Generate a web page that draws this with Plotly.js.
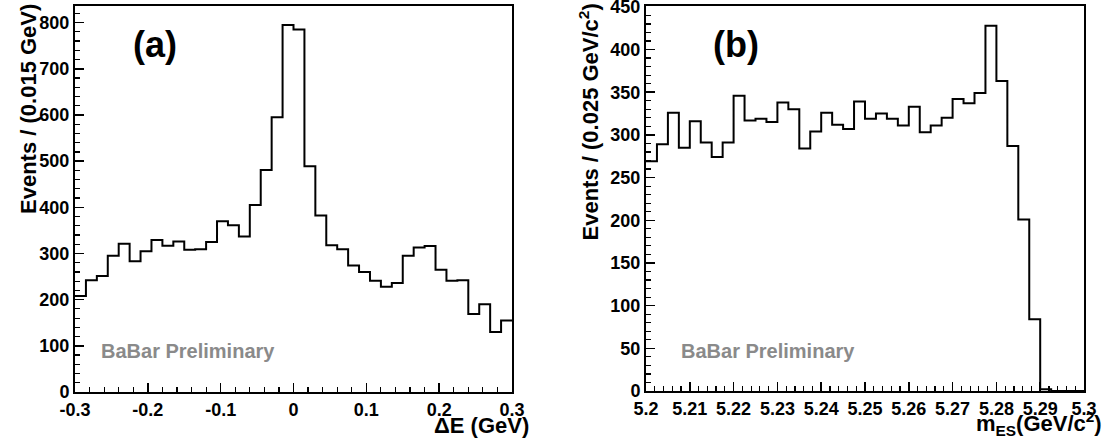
<!DOCTYPE html>
<html>
<head>
<meta charset="utf-8">
<script src="https://cdn.plot.ly/plotly-3.0.1.min.js"></script>
<style>html,body{margin:0;padding:0;background:#fff;}#chart{width:1112px;height:438px;}</style>
</head>
<body>
<div id="chart"></div>
<script>
// ---- data (a): Delta E histogram, 40 bins of 0.015 GeV from -0.3 to 0.3
const deLow = -0.3, deHigh = 0.3, deBins = 40;
const deCounts = [208, 242, 251, 295, 321, 283, 305, 329, 317, 326,
                  308, 309, 325, 370, 361, 337, 405, 481, 595, 795,
                  785, 489, 382, 318, 309, 274, 260, 241, 228, 236,
                  295, 313, 316, 265, 241, 242, 169, 190, 130, 155];
const deTickVals = [-0.3, -0.2, -0.1, 0, 0.1, 0.2, 0.3];
const deTickText = ["-0.3", "-0.2", "-0.1", "0", "0.1", "0.2", "0.3"];
const deYTicks = [0, 100, 200, 300, 400, 500, 600, 700, 800];

// ---- data (b): mES histogram, 40 bins from 5.2 to 5.3
const mesLow = 5.2, mesHigh = 5.3, mesBins = 40;
const mesCounts = [269, 289, 326, 285, 316, 291, 274, 291, 346, 317,
                   319, 315, 338, 330, 284, 304, 326, 312, 307, 339,
                   319, 325, 319, 311, 333, 303, 311, 320, 342, 337,
                   349, 428, 363, 287, 201, 84, 2, 0, 0, 0];
const mesTickVals = [5.2, 5.21, 5.22, 5.23, 5.24, 5.25, 5.26, 5.27, 5.28, 5.29, 5.3];
const mesTickText = ["5.2", "5.21", "5.22", "5.23", "5.24", "5.25", "5.26", "5.27", "5.28", "5.29", "5.3"];
const mesYTicks = [0, 50, 100, 150, 200, 250, 300, 350, 400, 450];

// ---- texts
const labelA = "(a)", labelB = "(b)";
const watermark = "BaBar Preliminary";
const deXTitle = "ΔE (GeV)";
const deYTitle = "Events / (0.015 GeV)";
const mesXTitle = "m<sub>ES</sub>(GeV/c<sup>2</sup>)";
const mesYTitle = "Events / (0.025 GeV/c<sup>2</sup>)";

// ---- build step outlines from bin edges
function stepTrace(lo, hi, n, counts, xa, ya) {
  const w = (hi - lo) / n;
  const xs = [], ys = [];
  for (let i = 0; i <= n; i++) {
    xs.push(lo + i * w);
    ys.push(i < n ? counts[i] : counts[n - 1]);
  }
  return {x: xs, y: ys, type: 'scatter', mode: 'lines', line: {shape: 'hv', color: '#000', width: 2},
          xaxis: xa, yaxis: ya, hoverinfo: 'skip', showlegend: false};
}

const W = 1112, H = 438;
const px = v => v / W, py = v => 1 - v / H;
const FONT = 'Liberation Sans, Arial, Helvetica, sans-serif';

const axisBase = {
  showline: true, mirror: true, linecolor: '#000', linewidth: 2,
  showgrid: false, zeroline: false, ticks: 'inside', tickcolor: '#000', tickwidth: 1.5,
  tickfont: {family: FONT, size: 18, color: '#000', weight: 'bold'}, fixedrange: true,
  ticklabeloverflow: 'allow'
};

const traces = [
  stepTrace(deLow, deHigh, deBins, deCounts, 'x', 'y'),
  stepTrace(mesLow, mesHigh, mesBins, mesCounts, 'x2', 'y2')
];

const layout = {
  width: W, height: H, paper_bgcolor: '#fff', plot_bgcolor: '#fff',
  margin: {l: 0, r: 0, t: 0, b: 0, autoexpand: false},
  showlegend: false,
  xaxis: Object.assign({}, axisBase, {
    domain: [px(75), px(512)], range: [deLow, deHigh], anchor: 'y',
    tickmode: 'array', tickvals: deTickVals, ticktext: deTickText, ticklen: 9,
    minor: {tickmode: 'linear', tick0: deLow, dtick: 0.02, ticks: 'inside', ticklen: 5, tickcolor: '#000', tickwidth: 1.2, showgrid: false}
  }),
  yaxis: Object.assign({}, axisBase, {
    domain: [py(392), py(6)], range: [0, 836], anchor: 'x',
    tickmode: 'array', tickvals: deYTicks, ticklen: 9, ticklabelstandoff: 0,
    minor: {tickmode: 'linear', tick0: 0, dtick: 20, ticks: 'inside', ticklen: 5, tickcolor: '#000', tickwidth: 1.2, showgrid: false}
  }),
  xaxis2: Object.assign({}, axisBase, {
    domain: [px(646), px(1084)], range: [mesLow, mesHigh], anchor: 'y2',
    tickmode: 'array', tickvals: mesTickVals, ticktext: mesTickText, ticklen: 9,
    minor: {tickmode: 'linear', tick0: mesLow, dtick: 0.002, ticks: 'inside', ticklen: 5, tickcolor: '#000', tickwidth: 1.2, showgrid: false}
  }),
  yaxis2: Object.assign({}, axisBase, {
    domain: [py(391), py(6)], range: [0, 451], anchor: 'x2',
    tickmode: 'array', tickvals: mesYTicks, ticklen: 9, ticklabelstandoff: 0,
    minor: {tickmode: 'linear', tick0: 0, dtick: 10, ticks: 'inside', ticklen: 5, tickcolor: '#000', tickwidth: 1.2, showgrid: false}
  }),
  annotations: [
    {text: labelA, xref: 'paper', yref: 'paper', x: px(155), y: py(44), xanchor: 'center', yanchor: 'middle', showarrow: false,
     font: {family: FONT, size: 36, color: '#000', weight: 'bold'}},
    {text: labelB, xref: 'paper', yref: 'paper', x: px(736), y: py(44), xanchor: 'center', yanchor: 'middle', showarrow: false,
     font: {family: FONT, size: 36, color: '#000', weight: 'bold'}},
    {text: watermark, xref: 'paper', yref: 'paper', x: px(188), y: py(351), xanchor: 'center', yanchor: 'middle', showarrow: false,
     font: {family: FONT, size: 20, color: '#8a8a8a', weight: 'bold'}},
    {text: watermark, xref: 'paper', yref: 'paper', x: px(768), y: py(351), xanchor: 'center', yanchor: 'middle', showarrow: false,
     font: {family: FONT, size: 20, color: '#8a8a8a', weight: 'bold'}},
    {text: deXTitle, xref: 'paper', yref: 'paper', x: px(531), y: py(425), xanchor: 'right', yanchor: 'middle', showarrow: false,
     font: {family: FONT, size: 22, color: '#000', weight: 'bold'}},
    {text: mesXTitle, xref: 'paper', yref: 'paper', x: px(1104), y: py(423), xanchor: 'right', yanchor: 'middle', showarrow: false,
     font: {family: FONT, size: 22, color: '#000', weight: 'bold'}},
    {text: deYTitle, xref: 'paper', yref: 'paper', x: px(29), y: py(2), xanchor: 'center', yanchor: 'top', textangle: -90, showarrow: false,
     font: {family: FONT, size: 22, color: '#000', weight: 'bold'}},
    {text: mesYTitle, xref: 'paper', yref: 'paper', x: px(589), y: py(2), xanchor: 'center', yanchor: 'top', textangle: -90, showarrow: false,
     font: {family: FONT, size: 22, color: '#000', weight: 'bold'}}
  ]
};

Plotly.newPlot('chart', traces, layout, {staticPlot: true, displayModeBar: false});
</script>
</body>
</html>
